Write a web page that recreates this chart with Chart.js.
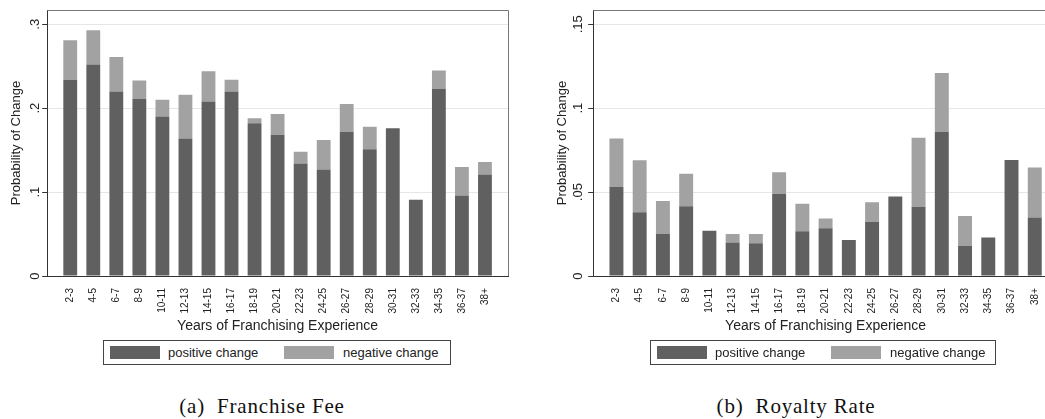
<!DOCTYPE html>
<html>
<head>
<meta charset="utf-8">
<title>Probability of Change by Years of Franchising Experience</title>
<script src="https://cdn.jsdelivr.net/npm/chart.js@4/dist/chart.umd.min.js"></script>
<style>
  html, body { margin: 0; padding: 0; background: #fff; }
  body { position: relative; width: 1045px; height: 419px; overflow: hidden; font-family: "Liberation Sans", Arial, sans-serif; }
  canvas { position: absolute; top: 0; }
  #feeChart { left: 0; }
  #royaltyChart { left: 520px; }
  .legend { position: absolute; top: 340px; height: 23px; border: 1px solid #444; font-size: 13px; color: #222; }
  .legend span { position: absolute; top: 0; line-height: 24px; white-space: nowrap; }
  .legend i { position: absolute; top: 5px; width: 50px; height: 13px; }
  .caption { position: absolute; top: 396px; line-height: 21px; font-family: "Liberation Serif", "Times New Roman", serif; font-size: 21px; letter-spacing: 0.8px; color: #111; white-space: nowrap; transform: translateX(-50%); }
</style>
</head>
<body>
<canvas id="feeChart" width="524" height="340"></canvas>
<canvas id="royaltyChart" width="554" height="340"></canvas>

<div class="legend" id="feeLegend" style="left:103px; width:346px;"></div>
<div class="legend" id="royaltyLegend" style="left:650px; width:344px;"></div>

<div class="caption" style="left:262px;">(a)&nbsp; Franchise Fee</div>
<div class="caption" style="left:796px;">(b)&nbsp; Royalty Rate</div>

<script>
// Categories (years of franchising experience)
const categories = ['2-3', '4-5', '6-7', '8-9', '10-11', '12-13', '14-15', '16-17', '18-19', '20-21',
    '22-23', '24-25', '26-27', '28-29', '30-31', '32-33', '34-35', '36-37', '38+'];

const seriesNames = ['positive change', 'negative change'];
const seriesColors = ['#606060', '#a2a2a2'];

// (a) Franchise fee
const feePositive = [0.234, 0.252, 0.220, 0.211, 0.190, 0.164, 0.208, 0.220, 0.182, 0.168,
    0.134, 0.127, 0.172, 0.151, 0.176, 0.091, 0.223, 0.096, 0.121];
const feeNegative = [0.047, 0.041, 0.041, 0.022, 0.020, 0.052, 0.036, 0.014, 0.006, 0.025,
    0.014, 0.035, 0.033, 0.027, 0, 0, 0.022, 0.034, 0.015];
const feeTicks = [0, 0.1, 0.2, 0.3];
const feeTickLabels = ['0', '.1', '.2', '.3'];

// (b) Royalty rate
const royaltyPositive = [0.053, 0.038, 0.025, 0.0415, 0.027, 0.020, 0.0195, 0.049, 0.0267, 0.0285,
    0.0215, 0.0324, 0.0474, 0.0413, 0.086, 0.018, 0.0229, 0.0692, 0.0348];
const royaltyNegative = [0.029, 0.031, 0.0197, 0.0194, 0, 0.0051, 0.0056, 0.0129, 0.0164, 0.0057,
    0, 0.0115, 0, 0.0411, 0.035, 0.0178, 0, 0, 0.0298];
const royaltyTicks = [0, 0.05, 0.1, 0.15];
const royaltyTickLabels = ['0', '.05', '.1', '.15'];

const sansFont = '"Liberation Sans", Arial, sans-serif';

// top and right edges of the plot region
const framePlugin = {
    id: 'frame',
    beforeDatasetsDraw(chart) {
        const a = chart.chartArea;
        const ctx = chart.ctx;
        ctx.save();
        ctx.strokeStyle = '#777';
        ctx.lineWidth = 1;
        ctx.beginPath();
        ctx.moveTo(a.left, a.top + 0.5);
        ctx.lineTo(a.right + 0.5, a.top + 0.5);
        ctx.lineTo(a.right + 0.5, a.bottom);
        ctx.stroke();
        ctx.restore();
    }
};

function makeChart(id, positive, negative, tickValues, tickLabels, yMax, padding) {
    // empty slot at each end so the first and last bar sit one step from the frame
    const labels = ['', ...categories, ''];
    const ctx = document.getElementById(id).getContext('2d');
    return new Chart(ctx, {
        type: 'bar',
        data: {
            labels: labels,
            datasets: [positive, negative].map((values, i) => ({
                label: seriesNames[i],
                data: [null, ...values, null],
                backgroundColor: seriesColors[i],
                borderWidth: 0,
                categoryPercentage: 1,
                barPercentage: 0.6
            }))
        },
        options: {
            responsive: false,
            animation: false,
            layout: { padding: padding },
            plugins: {
                legend: { display: false },
                tooltip: { enabled: false }
            },
            scales: {
                x: {
                    stacked: true,
                    offset: false,
                    grid: { display: false },
                    border: { display: true, color: '#333', width: 1 },
                    ticks: {
                        autoSkip: false,
                        minRotation: 90,
                        maxRotation: 90,
                        padding: 4,
                        color: '#222',
                        font: { family: sansFont, size: 10 }
                    },
                    title: {
                        display: true,
                        text: 'Years of Franchising Experience',
                        color: '#222',
                        font: { family: sansFont, size: 14 },
                        padding: { top: 0, bottom: 0 }
                    }
                },
                y: {
                    stacked: true,
                    min: 0,
                    max: yMax,
                    afterBuildTicks: scale => {
                        scale.ticks = tickValues.map(v => ({ value: v }));
                    },
                    grid: { color: '#e6e6e6', tickColor: '#333', tickLength: 5 },
                    border: { display: true, color: '#333', width: 1 },
                    ticks: {
                        callback: (v, i) => tickLabels[i],
                        minRotation: 90,
                        maxRotation: 90,
                        crossAlign: 'center',
                        padding: 1,
                        color: '#222',
                        font: { family: sansFont, size: 13 }
                    },
                    title: {
                        display: true,
                        text: 'Probability of Change',
                        color: '#222',
                        font: { family: sansFont, size: 13 },
                        padding: { top: 4, bottom: 0 }
                    }
                }
            }
        },
        plugins: [framePlugin]
    });
}

function makeLegend(id) {
    const box = document.getElementById(id);
    const swatchX = [6, 180];
    const textX = [64, 239];
    seriesNames.forEach((name, i) => {
        const sw = document.createElement('i');
        sw.style.left = swatchX[i] + 'px';
        sw.style.background = seriesColors[i];
        box.appendChild(sw);
        const t = document.createElement('span');
        t.style.left = textX[i] + 'px';
        t.textContent = name;
        box.appendChild(t);
    });
}

makeChart('feeChart', feePositive, feeNegative, feeTicks, feeTickLabels, 0.317,
    { left: 5, top: 10, right: 1, bottom: 5.6 });
makeChart('royaltyChart', royaltyPositive, royaltyNegative, royaltyTicks, royaltyTickLabels, 0.1585,
    { left: 31, top: 10, right: 0, bottom: 5.6 });
makeLegend('feeLegend');
makeLegend('royaltyLegend');
</script>
</body>
</html>
